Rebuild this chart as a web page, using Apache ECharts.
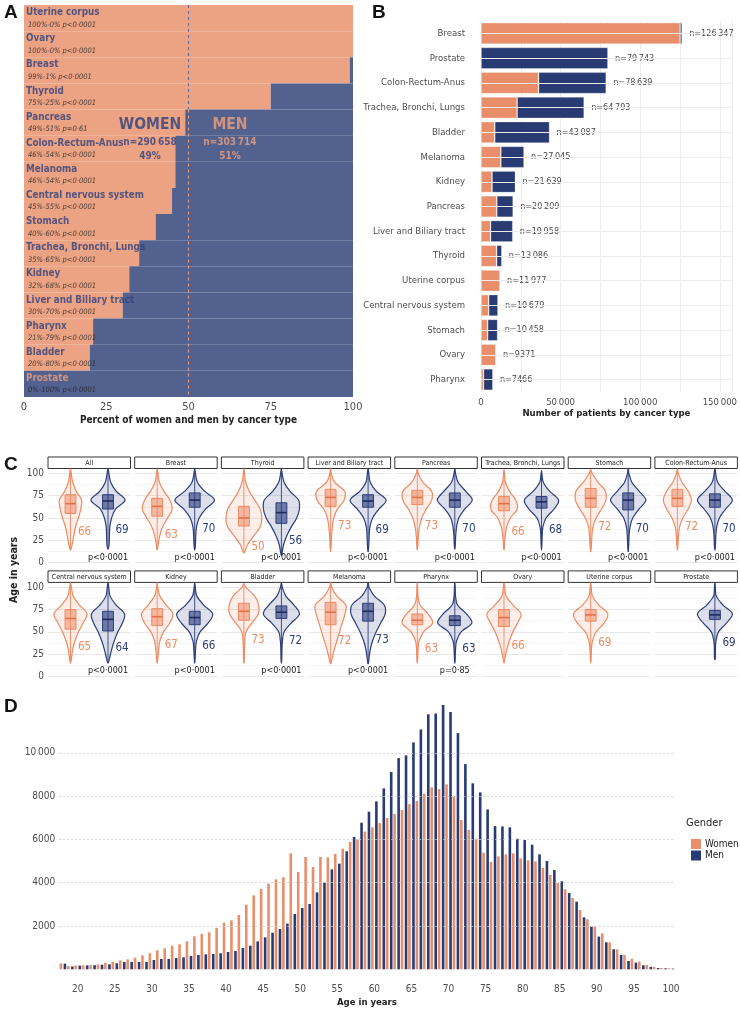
<!DOCTYPE html>
<html><head><meta charset="utf-8">
<script src="https://cdn.jsdelivr.net/npm/echarts@6/dist/echarts.min.js"></script>
<style>html,body{margin:0;padding:0;background:#fff}#c{width:740px;height:1009px}</style>
</head><body><div id="c"></div><script>
const FONT = "'DejaVu Sans Condensed','Liberation Sans Narrow',sans-serif";

// ---------- Panel A data ----------
const aCategories = ['Uterine corpus','Ovary','Breast','Thyroid','Pancreas','Colon-Rectum-Anus','Melanoma','Central nervous system','Stomach','Trachea, Bronchi, Lungs','Kidney','Liver and Biliary tract','Pharynx','Bladder','Prostate'];
const aWomenPct = [100,100,99,75,49,46,46,45,40,35,32,30,21,20,0];
const aMenPct   = [0,0,1,25,51,54,54,55,60,65,68,70,79,80,100];
const aPvalues  = ['p<0·0001','p<0·0001','p<0·0001','p<0·0001','p=0·61','p<0·0001','p<0·0001','p<0·0001','p<0·0001','p<0·0001','p<0·0001','p<0·0001','p<0·0001','p<0·0001','p<0·0001'];
const aGroups   = ['WOMEN','MEN'];
const aTotals   = [290658, 303714];
const aTotalPct = [49, 51];

// ---------- Panel B data ----------
const bCategories = ['Breast','Prostate','Colon-Rectum-Anus','Trachea, Bronchi, Lungs','Bladder','Melanoma','Kidney','Pancreas','Liver and Biliary tract','Thyroid','Uterine corpus','Central nervous system','Stomach','Ovary','Pharynx'];
const bTotal = [126347,79743,78639,64793,43087,27045,21639,20209,19958,13086,11977,10679,10458,9371,7466];
const bWomen = [125084,0,36174,22678,8617,12441,6924,9902,5987,9815,11977,4806,4183,9371,1568];

// ---------- Panel C data ----------
const cFacets = ['All','Breast','Thyroid','Liver and Biliary tract','Pancreas','Trachea, Bronchi, Lungs','Stomach','Colon-Rectum-Anus','Central nervous system','Kidney','Bladder','Melanoma','Pharynx','Ovary','Uterine corpus','Prostate'];
const cMedW = [66,63,50,73,73,66,72,72,65,67,73,72,63,66,69,null];
const cQ1W  = [55,52,41,63,65,58,62,63,53,57,63,58,58,56,62,null];
const cQ3W  = [76,72,63,82,81,74,83,82,75,76,82,83,70,75,75,null];
const cLoW  = [14,14,11,12,14,14,12,14,15,15,15,14,15,15,15,null];
const cHiW  = [105,105,105,105,105,104,104,105,105,105,104,105,105,105,105,null];
const cMedM = [69,70,56,69,70,68,70,70,64,66,72,73,63,null,null,69];
const cQ1M  = [60,62,44,62,62,61,59,62,51,58,65,62,57,null,null,64];
const cQ3M  = [76,78,67,76,78,74,78,77,73,73,79,82,68,null,null,74];
const cLoM  = [15,14,8,12,15,14,12,14,15,15,15,14,15,null,null,19];
const cHiM  = [105,105,105,105,105,103,105,105,105,105,105,105,105,null,null,105];
const cDensAges = [10,20,30,40,50,60,70,80,90,100];
const cDensW = [
 [0,0.09,0.18,0.28,0.44,0.57,0.62,0.32,0.12,0.04],
 [0,0.05,0.14,0.30,0.58,0.83,0.70,0.37,0.12,0.04],
 [0.02,0.20,0.55,0.90,1.00,0.90,0.60,0.30,0.10,0.03],
 [0,0.03,0.05,0.10,0.18,0.38,0.75,0.78,0.22,0.04],
 [0,0.03,0.06,0.12,0.25,0.50,0.80,0.80,0.30,0.05],
 [0,0.03,0.07,0.15,0.35,0.74,0.65,0.30,0.08,0.02],
 [0,0.04,0.07,0.12,0.30,0.60,0.85,0.82,0.40,0.08],
 [0,0.03,0.06,0.12,0.30,0.60,0.78,0.60,0.25,0.05],
 [0,0.05,0.12,0.25,0.45,0.70,0.92,0.50,0.15,0.05],
 [0,0.03,0.08,0.15,0.35,0.70,0.87,0.50,0.15,0.03],
 [0,0.02,0.03,0.05,0.12,0.45,0.80,0.82,0.60,0.10],
 [0,0.08,0.20,0.35,0.50,0.65,0.80,0.85,0.35,0.06],
 [0,0.02,0.04,0.10,0.35,0.85,0.60,0.15,0.04,0.02],
 [0,0.05,0.15,0.30,0.50,0.75,0.95,0.50,0.12,0.04],
 [0,0.02,0.04,0.10,0.30,0.75,0.95,0.45,0.10,0.03],
 null
];
const cDensM = [
 [0,0.06,0.08,0.10,0.20,0.42,0.95,0.45,0.15,0.05],
 [0,0.04,0.06,0.10,0.25,0.60,1.10,0.55,0.15,0.04],
 [0.03,0.12,0.30,0.55,0.85,1.00,0.95,0.47,0.15,0.04],
 [0,0.04,0.06,0.10,0.25,0.60,1.00,0.45,0.12,0.04],
 [0,0.03,0.05,0.10,0.22,0.55,0.97,0.60,0.18,0.04],
 [0,0.02,0.04,0.08,0.25,0.70,0.95,0.45,0.10,0.02],
 [0,0.03,0.05,0.10,0.25,0.60,0.98,0.60,0.20,0.04],
 [0,0.03,0.05,0.10,0.25,0.60,0.97,0.55,0.15,0.04],
 [0,0.08,0.20,0.35,0.55,0.80,0.92,0.45,0.12,0.04],
 [0,0.02,0.05,0.10,0.30,0.75,1.00,0.50,0.12,0.03],
 [0,0.02,0.03,0.06,0.15,0.55,1.00,0.70,0.25,0.05],
 [0,0.05,0.12,0.25,0.45,0.70,0.95,0.90,0.35,0.05],
 [0,0.02,0.04,0.10,0.35,0.95,0.65,0.15,0.04,0.02],
 null, null,
 [0,0.02,0.03,0.06,0.20,0.65,0.97,0.45,0.08,0.02]
];
const cPval = ['p<0·0001','p<0·0001','p<0·0001','p<0·0001','p<0·0001','p<0·0001','p<0·0001','p<0·0001','p<0·0001','p<0·0001','p<0·0001','p<0·0001','p=0·85','','',''];

// ---------- Panel D data ----------
const dAges = ['18','19','20','21','22','23','24','25','26','27','28','29','30','31','32','33','34','35','36','37','38','39','40','41','42','43','44','45','46','47','48','49','50','51','52','53','54','55','56','57','58','59','60','61','62','63','64','65','66','67','68','69','70','71','72','73','74','75','76','77','78','79','80','81','82','83','84','85','86','87','88','89','90','91','92','93','94','95','96','97','98','99','100'];
const dWomen = [270,150,180,185,200,230,300,350,415,460,540,645,740,877,970,1090,1155,1290,1525,1630,1710,1910,2155,2260,2510,2985,3415,3710,3955,4155,4250,5355,4495,5185,4725,5185,5170,5325,5570,5880,6000,6355,6555,6755,6985,7170,7355,7630,7770,8110,8400,8325,8540,7985,6895,6435,6030,5385,4955,5215,5310,5355,5125,5030,4985,4680,4355,3985,3695,3295,2740,2310,1970,1660,1245,925,660,490,355,200,110,60,45];
const dMen = [260,130,170,180,190,210,230,280,340,340,340,340,430,477,477,523,554,615,660,690,710,740,800,845,985,1090,1290,1475,1690,1860,2110,2555,2830,3015,3555,4000,4615,4880,5450,6110,6770,7280,7755,8355,9110,9755,9880,10480,11080,11775,11820,12205,11880,10910,9480,8590,8170,7385,6615,6600,6555,6030,5970,5755,5310,5000,4585,4065,3525,3125,2400,1970,1510,1245,925,660,385,310,185,110,60,45,30];
const dTicks = [2000,4000,6000,8000,10000];

// ---------- styles ----------
const A_OR = '#ECA383', A_BL = '#52618E', A_NAME = '#2E4080', A_ORTXT = '#F0A07A';
const B_OR = '#E88E6A', B_BL = '#283B73';
const CW_LINE = '#EE8A62', CM_LINE = '#2C3D7C';
const CW_FILL = 'rgba(238,138,98,0.14)', CM_FILL = 'rgba(44,61,124,0.16)';
const CW_BOX = 'rgba(238,138,98,0.55)', CM_BOX = 'rgba(44,61,124,0.62)';
const CW_MED = '#E0724C', CM_MED = '#1C2A5E';
const AX = '#4d4d4d';

function fmt(n){ const s = String(n); return n >= 10000 ? s.replace(/\B(?=(\d{3})+(?!\d))/g,'\u2009') : s; }

const grids=[], xAxes=[], yAxes=[], series=[], graphics=[];

// ---------- Panel A ----------
grids.push({left:24, top:5, width:329, height:392});
xAxes.push({gridIndex:0, type:'value', min:0, max:100, interval:25, axisLine:{show:false}, axisTick:{show:false}, splitLine:{show:false},
  axisLabel:{fontSize:11, color:AX, margin:5, fontFamily:FONT},
  name:'Percent of women and men by cancer type', nameLocation:'middle', nameGap:18,
  nameTextStyle:{fontSize:10, fontWeight:'bold', color:'#222', fontFamily:FONT}});
yAxes.push({gridIndex:0, type:'category', data:aCategories, inverse:true, show:false});
yAxes.push({gridIndex:0, type:'value', min:0, max:aCategories.length, inverse:true, show:false});
series.push({type:'bar', name:'A women', xAxisIndex:0, yAxisIndex:0, stack:'a', data:aWomenPct, barCategoryGap:'0%', itemStyle:{color:A_OR}, silent:true});
series.push({type:'bar', name:'A men', xAxisIndex:0, yAxisIndex:0, stack:'a', data:aMenPct, barCategoryGap:'0%', itemStyle:{color:A_BL}, silent:true});
series.push({type:'scatter', xAxisIndex:0, yAxisIndex:1, symbolSize:0, silent:true, z:5,
  data:aCategories.map((c,i)=>[0, i+0.5]),
  label:{show:true, position:'right', distance:2, textBorderWidth:0,
    formatter:p=>{const i=p.dataIndex; const st = aCategories[i]==='Prostate'?'np':'n';
      return '{'+st+'|'+aCategories[i]+'}\n{s|'+aWomenPct[i]+'%-'+aMenPct[i]+'% '+aPvalues[i]+'}';},
    rich:{n:{fontFamily:FONT,fontSize:9.8,fontWeight:'bold',color:A_NAME,lineHeight:13},
          np:{fontFamily:FONT,fontSize:9.8,fontWeight:'bold',color:A_ORTXT,lineHeight:13},
          s:{fontFamily:FONT,fontSize:7.5,fontStyle:'italic',color:'#222',lineHeight:11,padding:[0,0,0,2]}}}});
const aSplit = aWomenPct.findIndex(p=>p<50);
series.push({type:'scatter', xAxisIndex:0, yAxisIndex:1, symbolSize:0, silent:true, z:6,
  data:[[38.3,5.13],[62.6,5.13]],
  label:{show:true, position:'inside', textBorderWidth:0,
    formatter:p=>{const i=p.dataIndex; const k=i===0?'w':'m';
      return '{b'+k+'|'+aGroups[i]+'}\n{n'+k+'|n='+fmt(aTotals[i])+'}\n{n'+k+'|'+aTotalPct[i]+'%}';},
    rich:{bw:{fontFamily:FONT,fontSize:15.5,fontWeight:'bold',color:A_NAME,lineHeight:20,align:'center'},
          nw:{fontFamily:FONT,fontSize:10,fontWeight:'bold',color:A_NAME,lineHeight:14,align:'center'},
          bm:{fontFamily:FONT,fontSize:15.5,fontWeight:'bold',color:A_ORTXT,lineHeight:20,align:'center'},
          nm:{fontFamily:FONT,fontSize:10,fontWeight:'bold',color:A_ORTXT,lineHeight:14,align:'center'}}},
  markLine:{silent:true, symbol:'none', label:{show:false}, lineStyle:{type:[3,3], width:1},
    data:[[{coord:[50,0], lineStyle:{color:'#5B6A98',type:[3,3]}},{coord:[50,aSplit]}],
          [{coord:[50,aSplit], lineStyle:{color:'#E9A07F',type:[3,3]}},{coord:[50,aCategories.length]}]]}});

// ---------- Panel B ----------
grids.push({left:481, top:21.1, width:252, height:370.8});
xAxes.push({gridIndex:1, type:'value', min:0, max:157500, interval:25000, axisLine:{show:false}, axisTick:{show:false},
  splitLine:{lineStyle:{color:'#ececec'}},
  axisLabel:{formatter:v=> v%50000===0 ? fmt(v) : '', fontSize:9.5, color:AX, margin:6, fontFamily:FONT},
  name:'Number of patients by cancer type', nameLocation:'middle', nameGap:16,
  nameTextStyle:{fontSize:9.5, fontWeight:'bold', color:'#222', fontFamily:FONT}});
yAxes.push({gridIndex:1, type:'category', data:bCategories, inverse:true, axisLine:{show:false}, axisTick:{show:false},
  axisLabel:{fontSize:9.5, color:AX, margin:16, fontFamily:FONT}});
series.push({type:'line', xAxisIndex:1, yAxisIndex:2, data:[], z:1, silent:true,
  markLine:{silent:true, symbol:'none', label:{show:false}, lineStyle:{color:'#ececec', type:'solid', width:1},
    data:bCategories.map((c,i)=>({yAxis:i}))}});
series.push({type:'bar', name:'B women', xAxisIndex:1, yAxisIndex:2, stack:'b', data:bWomen, barCategoryGap:'13%', z:3,
  itemStyle:{color:B_OR, borderColor:'rgba(255,255,255,0.35)', borderWidth:0.8}, silent:true});
series.push({type:'bar', name:'B men', xAxisIndex:1, yAxisIndex:2, stack:'b', data:bTotal.map((t,i)=>t-bWomen[i]), barCategoryGap:'13%', z:3,
  itemStyle:{color:B_BL, borderColor:'rgba(255,255,255,0.35)', borderWidth:0.8}, silent:true});
series.push({type:'scatter', xAxisIndex:1, yAxisIndex:2, symbolSize:0, silent:true, z:4,
  data:bTotal.map((t,i)=>[t,i]),
  label:{show:true, position:'right', distance:7, formatter:p=>'n='+fmt(bTotal[p.dataIndex]),
    fontFamily:FONT, fontSize:9, fontWeight:'normal', color:'#111', textBorderWidth:0}});

// ---------- Panel C ----------
const cLeft0 = 48, cStep = 86.7, cW = 82.5, cTops = [473.3, 587.2], cH = 89.3, cStripH = 11.5;
const VW = 0.48, BW = 0.145;
function violinRender(f){
  return function(params, api){
    const pos = api.value(0);
    const women = pos === 1;
    const med = api.value(1), q1 = api.value(2), q3 = api.value(3), lo = api.value(4), hi = api.value(5);
    const dens = women ? cDensW[f] : cDensM[f];
    const line = women ? CW_LINE : CM_LINE;
    const pts = [[lo,0]];
    cDensAges.forEach((a,k)=>{ if(a>lo && a<hi) pts.push([a, dens[k]]); });
    pts.push([hi,0]);
    const right = pts.map(([a,w])=>api.coord([pos + w*VW, a]));
    const left = pts.slice(1,-1).reverse().map(([a,w])=>api.coord([pos - w*VW, a]));
    const poly = right.concat(left);
    const pA = api.coord([pos-BW, q3]), pB = api.coord([pos+BW, q1]);
    const m1 = api.coord([pos-BW, med]), m2 = api.coord([pos+BW, med]);
    const pLo = api.coord([pos, lo]), pHi = api.coord([pos, hi]);
    const pt = api.coord([pos+0.2, med-32]);
    const children = [
      {type:'polygon', shape:{points:poly, smooth:0.35}, style:{fill:women?CW_FILL:CM_FILL, stroke:line, lineWidth:1.2}},
      {type:'line', shape:{x1:pLo[0], y1:pLo[1], x2:pHi[0], y2:pHi[1]}, style:{stroke:line, lineWidth:0.9}},
      {type:'rect', shape:{x:pA[0], y:pA[1], width:pB[0]-pA[0], height:pB[1]-pA[1]}, style:{fill:women?CW_BOX:CM_BOX, stroke:line, lineWidth:1}},
      {type:'line', shape:{x1:m1[0], y1:m1[1], x2:m2[0], y2:m2[1]}, style:{stroke:women?CW_MED:CM_MED, lineWidth:1.6}},
      {type:'text', x:pt[0], y:pt[1], style:{text:String(med), fill:line, font:'11.5px '+FONT, align:'left', verticalAlign:'middle', textAlign:'left', textVerticalAlign:'middle'}}
    ];
    if(!women && cPval[f]){
      const pp = api.coord([2,6]);
      children.push({type:'text', x:pp[0], y:pp[1], style:{text:cPval[f], fill:'#1a1a1a', font:'9px '+FONT, align:'center', verticalAlign:'middle', textAlign:'center', textVerticalAlign:'middle'}});
    }
    return {type:'group', children};
  };
}
cFacets.forEach((name,f)=>{
  const row = f<8?0:1, col = f%8;
  const gi = grids.length;
  const left = cLeft0 + col*cStep;
  grids.push({left:left, top:cTops[row], width:cW, height:cH});
  xAxes.push({gridIndex:gi, type:'value', min:0.4, max:2.6, show:false});
  const yi = yAxes.length;
  yAxes.push({gridIndex:gi, type:'value', min:0, max:100, interval:25, axisLine:{show:false}, axisTick:{show:false},
    axisLabel:{show:col===0, fontSize:10, color:AX, margin:4, fontFamily:FONT},
    splitLine:{lineStyle:{color:'#e8e8e8'}},
    minorTick:{show:false, splitNumber:2}, minorSplitLine:{show:true, lineStyle:{color:'#f4f4f4'}}});
  const data = [];
  if(cMedW[f]!=null) data.push([1, cMedW[f], cQ1W[f], cQ3W[f], cLoW[f], cHiW[f]]);
  if(cMedM[f]!=null) data.push([2, cMedM[f], cQ1M[f], cQ3M[f], cLoM[f], cHiM[f]]);
  series.push({type:'custom', xAxisIndex:xAxes.length-1, yAxisIndex:yi, data:data, encode:{x:0, y:1}, clip:false, silent:true,
    renderItem:violinRender(f)});
  const sy = cTops[row] - 16.3;
  graphics.push({type:'rect', shape:{x:left, y:sy, width:cW, height:cStripH}, style:{fill:'#fff', stroke:'#333', lineWidth:1}});
  graphics.push({type:'text', x:left+cW/2, y:sy+cStripH/2+0.5, style:{text:name, fill:'#1a1a1a', font:'7px '+FONT, align:'center', verticalAlign:'middle', textAlign:'center', textVerticalAlign:'middle'}});
});

// ---------- Panel D ----------
const dg = grids.length;
grids.push({left:59.2, right:65.3, top:690, height:279.3});
const dX = xAxes.length;
xAxes.push({gridIndex:dg, type:'category', data:dAges, axisLine:{show:false}, axisTick:{show:false},
  axisLabel:{interval:(i,v)=>Number(v)%5===0, fontSize:10, color:AX, margin:15, fontFamily:FONT},
  name:'Age in years', nameLocation:'middle', nameGap:28, nameTextStyle:{fontSize:9.5, fontWeight:'bold', color:'#222', fontFamily:FONT}});
const dY = yAxes.length;
yAxes.push({gridIndex:dg, type:'value', min:0, max:12900, interval:2000, axisLine:{show:false}, axisTick:{show:false}, splitLine:{show:false},
  axisLabel:{formatter:v=> dTicks.includes(v) ? fmt(v) : '', fontSize:10, color:AX, margin:4, fontFamily:FONT}});
series.push({type:'line', xAxisIndex:dX, yAxisIndex:dY, data:[], z:1, silent:true,
  markLine:{silent:true, symbol:'none', label:{show:false}, lineStyle:{color:'#c9c9c9', type:[2,2], width:0.8},
    data:dTicks.map(v=>({yAxis:v}))}});
series.push({type:'bar', name:'Women', xAxisIndex:dX, yAxisIndex:dY, data:dWomen, barWidth:2.6, barGap:'55%', z:3, itemStyle:{color:B_OR}, silent:true});
series.push({type:'bar', name:'Men', xAxisIndex:dX, yAxisIndex:dY, data:dMen, barWidth:2.6, barGap:'55%', z:3, itemStyle:{color:B_BL}, silent:true});

// ---------- graphics: letters & labels ----------
const letter = (t,x,y)=>({type:'text', x:x, y:y, style:{text:t, fill:'#111', font:"bold 19px 'Liberation Sans',Arial,sans-serif", align:'left', verticalAlign:'top', textAlign:'left', textVerticalAlign:'top'}});
graphics.push(letter('A',4,3), letter('B',372,3), letter('C',4,455), letter('D',4,697));
graphics.push({type:'text', x:14, y:570, rotation:Math.PI/2, style:{text:'Age in years', fill:'#222', font:'bold 10.5px '+FONT, align:'center', verticalAlign:'middle', textAlign:'center', textVerticalAlign:'middle'}});
graphics.push({type:'text', x:686, y:823, style:{text:'Gender', fill:'#222', font:'11px '+FONT, align:'left', verticalAlign:'middle', textAlign:'left', textVerticalAlign:'middle'}});

const chart = echarts.init(document.getElementById('c'));
chart.setOption({
  animation:false,
  backgroundColor:'#fff',
  grid:grids, xAxis:xAxes, yAxis:yAxes, series:series,
  legend:{data:['Women','Men'], left:686, top:834, orient:'vertical', itemWidth:10, itemHeight:10, itemGap:1.5, icon:'rect', selectedMode:false,
    textStyle:{fontFamily:FONT, fontSize:10, color:'#222', padding:[0,0,0,-1]}},
  graphic:{elements:graphics}
});
</script></body></html>
